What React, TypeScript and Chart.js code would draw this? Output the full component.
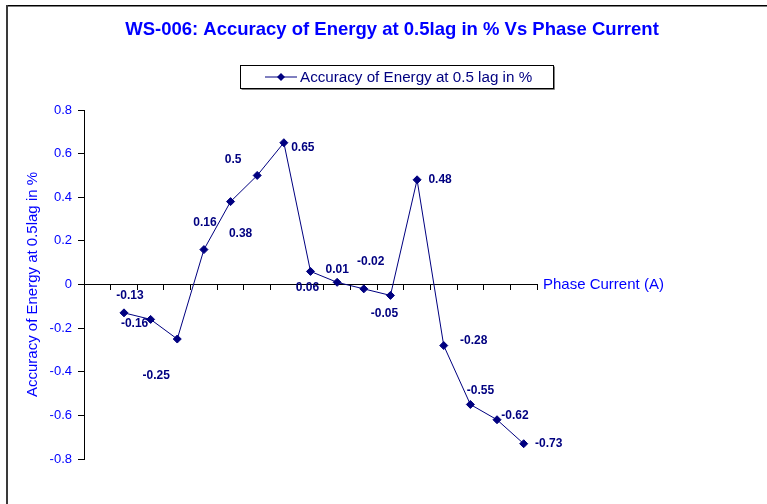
import React, { useEffect, useRef } from "react";
import { Chart, registerables } from "chart.js";

Chart.register(...registerables);

const chartTitle = "WS-006: Accuracy of Energy at 0.5lag in % Vs Phase Current";
const seriesName = "Accuracy of Energy at 0.5 lag in %";
const yAxisTitle = "Accuracy of Energy at 0.5lag in %";
const xAxisTitle = "Phase Current (A)";

const categories = ["", "1", "2", "3", "4", "5", "6", "7", "8", "9", "10", "11", "12", "13", "14", "15", "16"];
const accuracyValues: (number | null)[] = [
  null, -0.13, -0.16, -0.25, 0.16, 0.38, 0.5, 0.65, 0.06, 0.01, -0.02, -0.05, 0.48, -0.28, -0.55, -0.62, -0.73,
];
const yMin = -0.8;
const yMax = 0.8;
const yStep = 0.2;

// data-label offsets (dx, dy) relative to each point, as placed in the original
const labelOffsets: [number, number][] = [
  [0, 0], [6, -17], [-16, 4], [-21, 37], [1, -27], [10, 32], [-24, -16], [19, 5],
  [-3, 16], [0, -13], [7, -27], [-6, 18], [23, 0], [30, -5], [10, -14], [18, -4], [25, 0],
];

const FONT = "'Liberation Sans', Arial, sans-serif";
const NAVY = "#000080";
const BLUE = "#0000FF";

const decorPlugin = {
  id: "decor",
  beforeDraw(chart: any) {
    const ctx = chart.ctx;
    ctx.save();
    ctx.fillStyle = "#ffffff";
    ctx.fillRect(0, 0, chart.width, chart.height);
    ctx.fillStyle = "#000000";
    ctx.fillRect(6, 5, chart.width - 6, 1.5);
    ctx.fillStyle = "#3a3a3a";
    ctx.fillRect(6, 5, 2, chart.height - 5);
    ctx.restore();
  },
  afterDatasetsDraw(chart: any) {
    const ctx = chart.ctx;
    const meta = chart.getDatasetMeta(0);
    ctx.save();
    ctx.font = `bold 12px ${FONT}`;
    ctx.fillStyle = NAVY;
    ctx.textAlign = "center";
    ctx.textBaseline = "middle";
    meta.data.forEach((pt: any, i: number) => {
      const v = accuracyValues[i];
      if (v === null || v === undefined) return;
      const [dx, dy] = labelOffsets[i];
      ctx.fillText(String(v), pt.x + dx, pt.y + dy);
    });
    ctx.restore();
  },
  afterDraw(chart: any) {
    const ctx = chart.ctx;
    const xs = chart.scales.x;
    const ys = chart.scales.y;
    ctx.save();
    // title
    ctx.font = `bold 18.5px ${FONT}`;
    ctx.fillStyle = BLUE;
    ctx.textAlign = "center";
    ctx.textBaseline = "middle";
    ctx.fillText(chartTitle, 392, 30);

    // legend
    const bx = 240, by = 65, bw = 313, bh = 23;
    ctx.strokeStyle = "#000000";
    ctx.lineWidth = 1;
    ctx.strokeRect(bx + 0.5, by + 0.5, bw, bh);
    ctx.strokeStyle = "#808080";
    ctx.beginPath();
    ctx.moveTo(bx + 1.5, by + bh + 1.5);
    ctx.lineTo(bx + bw + 1.5, by + bh + 1.5);
    ctx.lineTo(bx + bw + 1.5, by + 1.5);
    ctx.stroke();
    const ly = by + bh / 2 + 0.5;
    ctx.strokeStyle = NAVY;
    ctx.beginPath();
    ctx.moveTo(265, ly);
    ctx.lineTo(297, ly);
    ctx.stroke();
    ctx.fillStyle = NAVY;
    ctx.beginPath();
    ctx.moveTo(281, ly - 4);
    ctx.lineTo(285, ly);
    ctx.lineTo(281, ly + 4);
    ctx.lineTo(277, ly);
    ctx.closePath();
    ctx.fill();
    ctx.font = `15.2px ${FONT}`;
    ctx.textAlign = "left";
    ctx.fillText(seriesName, 300, ly + 0.5);

    // x axis title at right end of the axis
    ctx.font = `15px ${FONT}`;
    ctx.fillStyle = BLUE;
    ctx.textAlign = "left";
    ctx.fillText(xAxisTitle, xs.right + 6, ys.getPixelForValue(0) + 0.5);
    ctx.restore();
  },
};

export default function App() {
  const ref = useRef<HTMLCanvasElement | null>(null);
  useEffect(() => {
    if (!ref.current) return;
    const chart = new Chart(ref.current, {
      type: "line",
      data: {
        labels: categories,
        datasets: [
          {
            label: seriesName,
            data: accuracyValues,
            borderColor: NAVY,
            backgroundColor: NAVY,
            borderWidth: 1,
            pointStyle: "rectRot",
            pointRadius: 4,
            pointHoverRadius: 4,
            pointBackgroundColor: NAVY,
            pointBorderColor: NAVY,
            pointBorderWidth: 1,
            tension: 0,
            spanGaps: false,
          },
        ],
      },
      options: {
        animation: false,
        responsive: false,
        maintainAspectRatio: false,
        layout: { padding: { left: 0, top: 110, right: 230, bottom: 45 } },
        plugins: {
          legend: { display: false },
          title: { display: false },
          tooltip: { enabled: false },
        },
        scales: {
          x: {
            type: "category",
            position: { y: 0 } as any,
            offset: true,
            grid: {
              offset: true,
              drawOnChartArea: false,
              drawTicks: true,
              tickLength: 5,
              color: "#000000",
            },
            border: { display: true, color: "#000000", width: 1 },
            ticks: { display: false },
          },
          y: {
            type: "linear",
            position: "left",
            min: yMin,
            max: yMax,
            afterFit(scale: any) {
              scale.width = 84;
            },
            ticks: {
              stepSize: yStep,
              color: BLUE,
              padding: 6,
              font: { family: FONT, size: 13 },
              callback: (v: any) => String(Number(Number(v).toFixed(1))),
            },
            grid: {
              drawOnChartArea: false,
              drawTicks: true,
              tickLength: 6,
              color: "#000000",
            },
            border: { display: true, color: "#000000", width: 1 },
            title: {
              display: true,
              text: yAxisTitle,
              color: BLUE,
              font: { family: FONT, size: 15 },
              padding: { top: 24, bottom: 0 },
            },
          },
        },
      },
      plugins: [decorPlugin],
    });
    return () => chart.destroy();
  }, []);
  return (
    <div style={{ position: "fixed", left: 0, top: 0, width: 767, height: 504, background: "#fff" }}>
      <canvas ref={ref} width={767} height={504} style={{ display: "block", width: 767, height: 504 }} />
    </div>
  );
}
